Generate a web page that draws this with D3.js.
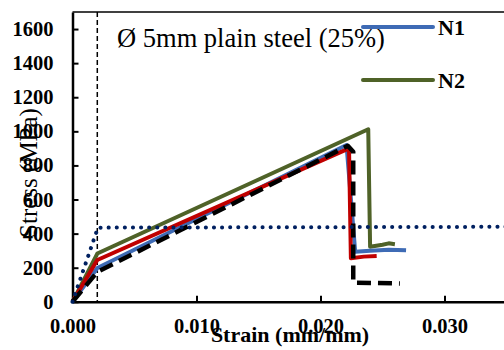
<!DOCTYPE html>
<html>
<head>
<meta charset="utf-8">
<script src="https://cdn.jsdelivr.net/npm/d3@7"></script>
<style>
  body { margin: 0; background: #fff; }
  svg { display: block; }
  text { font-family: "Liberation Serif", "Times New Roman", serif; }
</style>
</head>
<body>
<div id="chart"></div>
<script>
// strain (mm/mm), stress (MPa)
const n1 = [[0, 0], [0.002, 198], [0.0221, 920], [0.0228, 293], [0.0240, 300], [0.0255, 306], [0.0269, 302]];
const n2 = [[0, 0], [0.002, 283], [0.02385, 1012], [0.0240, 323], [0.0250, 335], [0.0255, 343], [0.0260, 338]];
const n3 = [[0, 0], [0.002, 245], [0.0223, 900], [0.02245, 255], [0.0235, 265], [0.02453, 268]];
const model = [[0, 0], [0.002, 175], [0.0222, 915], [0.02264, 880], [0.02264, 112], [0.0264, 108]];
const yieldLine = [[0, 0], [0.00205, 435], [0.035, 440]];
const yieldStrain = 0.002;

const yTicks = [0, 200, 400, 600, 800, 1000, 1200, 1400, 1600];
const xTicks = [0, 0.01, 0.02, 0.03];
const legendNames = ['N1', 'N2'];
const title = 'Ø 5mm plain steel (25%)';

const width = 504, height = 350;

const svg = d3.select('#chart')
  .append('svg')
  .attr('width', width)
  .attr('height', height);

const x = d3.scaleLinear().domain([0, 0.035]).range([72.5, 506.5]);
const y = d3.scaleLinear().domain([0, 1700]).range([301.8, 12]);

// axes, ticks point inwards
const axisY = svg.append('g')
  .attr('transform', `translate(${x(0)},0)`)
  .call(d3.axisLeft(y).tickValues(yTicks).tickSizeInner(-6).tickSizeOuter(0).tickPadding(19).tickFormat(d3.format('d')));

const axisX = svg.append('g')
  .attr('transform', `translate(0,${y(0)})`)
  .call(d3.axisBottom(x).tickValues(xTicks).tickSizeInner(-6).tickSizeOuter(0).tickPadding(17).tickFormat(d3.format('.3f')));

[axisY, axisX].forEach(a => {
  a.select('.domain').attr('stroke', '#000').attr('stroke-width', 2.5);
  a.selectAll('.tick line').attr('stroke', '#000').attr('stroke-width', 2);
  a.selectAll('.tick text')
    .attr('fill', '#000')
    .style('font-family', '"Liberation Serif", "Times New Roman", serif')
    .style('font-size', '20.5px')
    .style('font-weight', 'bold');
});

// top frame line
svg.append('line')
  .attr('x1', x(0)).attr('x2', x(0.035))
  .attr('y1', y(1700)).attr('y2', y(1700))
  .attr('stroke', '#000').attr('stroke-width', 1.5);

// yield strain marker
svg.append('line')
  .attr('x1', x(yieldStrain)).attr('x2', x(yieldStrain))
  .attr('y1', y(1700)).attr('y2', y(0))
  .attr('stroke', '#000').attr('stroke-width', 1.5)
  .attr('stroke-dasharray', '5,3');

const line = d3.line()
  .x(d => x(d[0]))
  .y(d => y(d[1]));

const series = [
  { data: n2, color: '#4f6228', width: 4, dash: null },
  { data: n1, color: '#3e6bb5', width: 4, dash: null },
  { data: n3, color: '#c00000', width: 4, dash: null },
  { data: model, color: '#000', width: 4.5, dash: '14,7' },
  { data: yieldLine, color: '#002060', width: 4, dash: '0.1,8', cap: 'round' }
];

svg.selectAll('.curve')
  .data(series)
  .join('path')
  .attr('class', 'curve')
  .attr('d', d => line(d.data))
  .attr('fill', 'none')
  .attr('stroke', d => d.color)
  .attr('stroke-width', d => d.width)
  .attr('stroke-dasharray', d => d.dash)
  .attr('stroke-linecap', d => d.cap || 'butt')
  .attr('stroke-linejoin', 'round');

// annotation
svg.append('text')
  .attr('x', 117)
  .attr('y', 47)
  .style('font-size', '26.5px')
  .text(title);

// legend (only N1, N2 visible)
const legendColors = ['#3e6bb5', '#4f6228'];
const legend = svg.selectAll('.legend')
  .data(legendNames)
  .join('g')
  .attr('class', 'legend')
  .attr('transform', (d, i) => `translate(363,${27 + i * 53})`);

legend.append('line')
  .attr('x1', 0).attr('x2', 70)
  .attr('stroke', (d, i) => legendColors[i])
  .attr('stroke-width', 4)
  .attr('stroke-linecap', 'round');

legend.append('text')
  .attr('x', 75)
  .attr('y', 8)
  .style('font-size', '22px')
  .style('font-weight', 'bold')
  .text(d => d);

// axis titles
svg.append('text')
  .attr('x', 290)
  .attr('y', 342)
  .attr('text-anchor', 'middle')
  .style('font-size', '22px')
  .style('font-weight', 'bold')
  .text('Strain (mm/mm)');

svg.append('text')
  .attr('transform', 'translate(37,173) rotate(-90)')
  .attr('text-anchor', 'middle')
  .style('font-size', '25px')
  .text('Stress (MPa)');
</script>
</body>
</html>
